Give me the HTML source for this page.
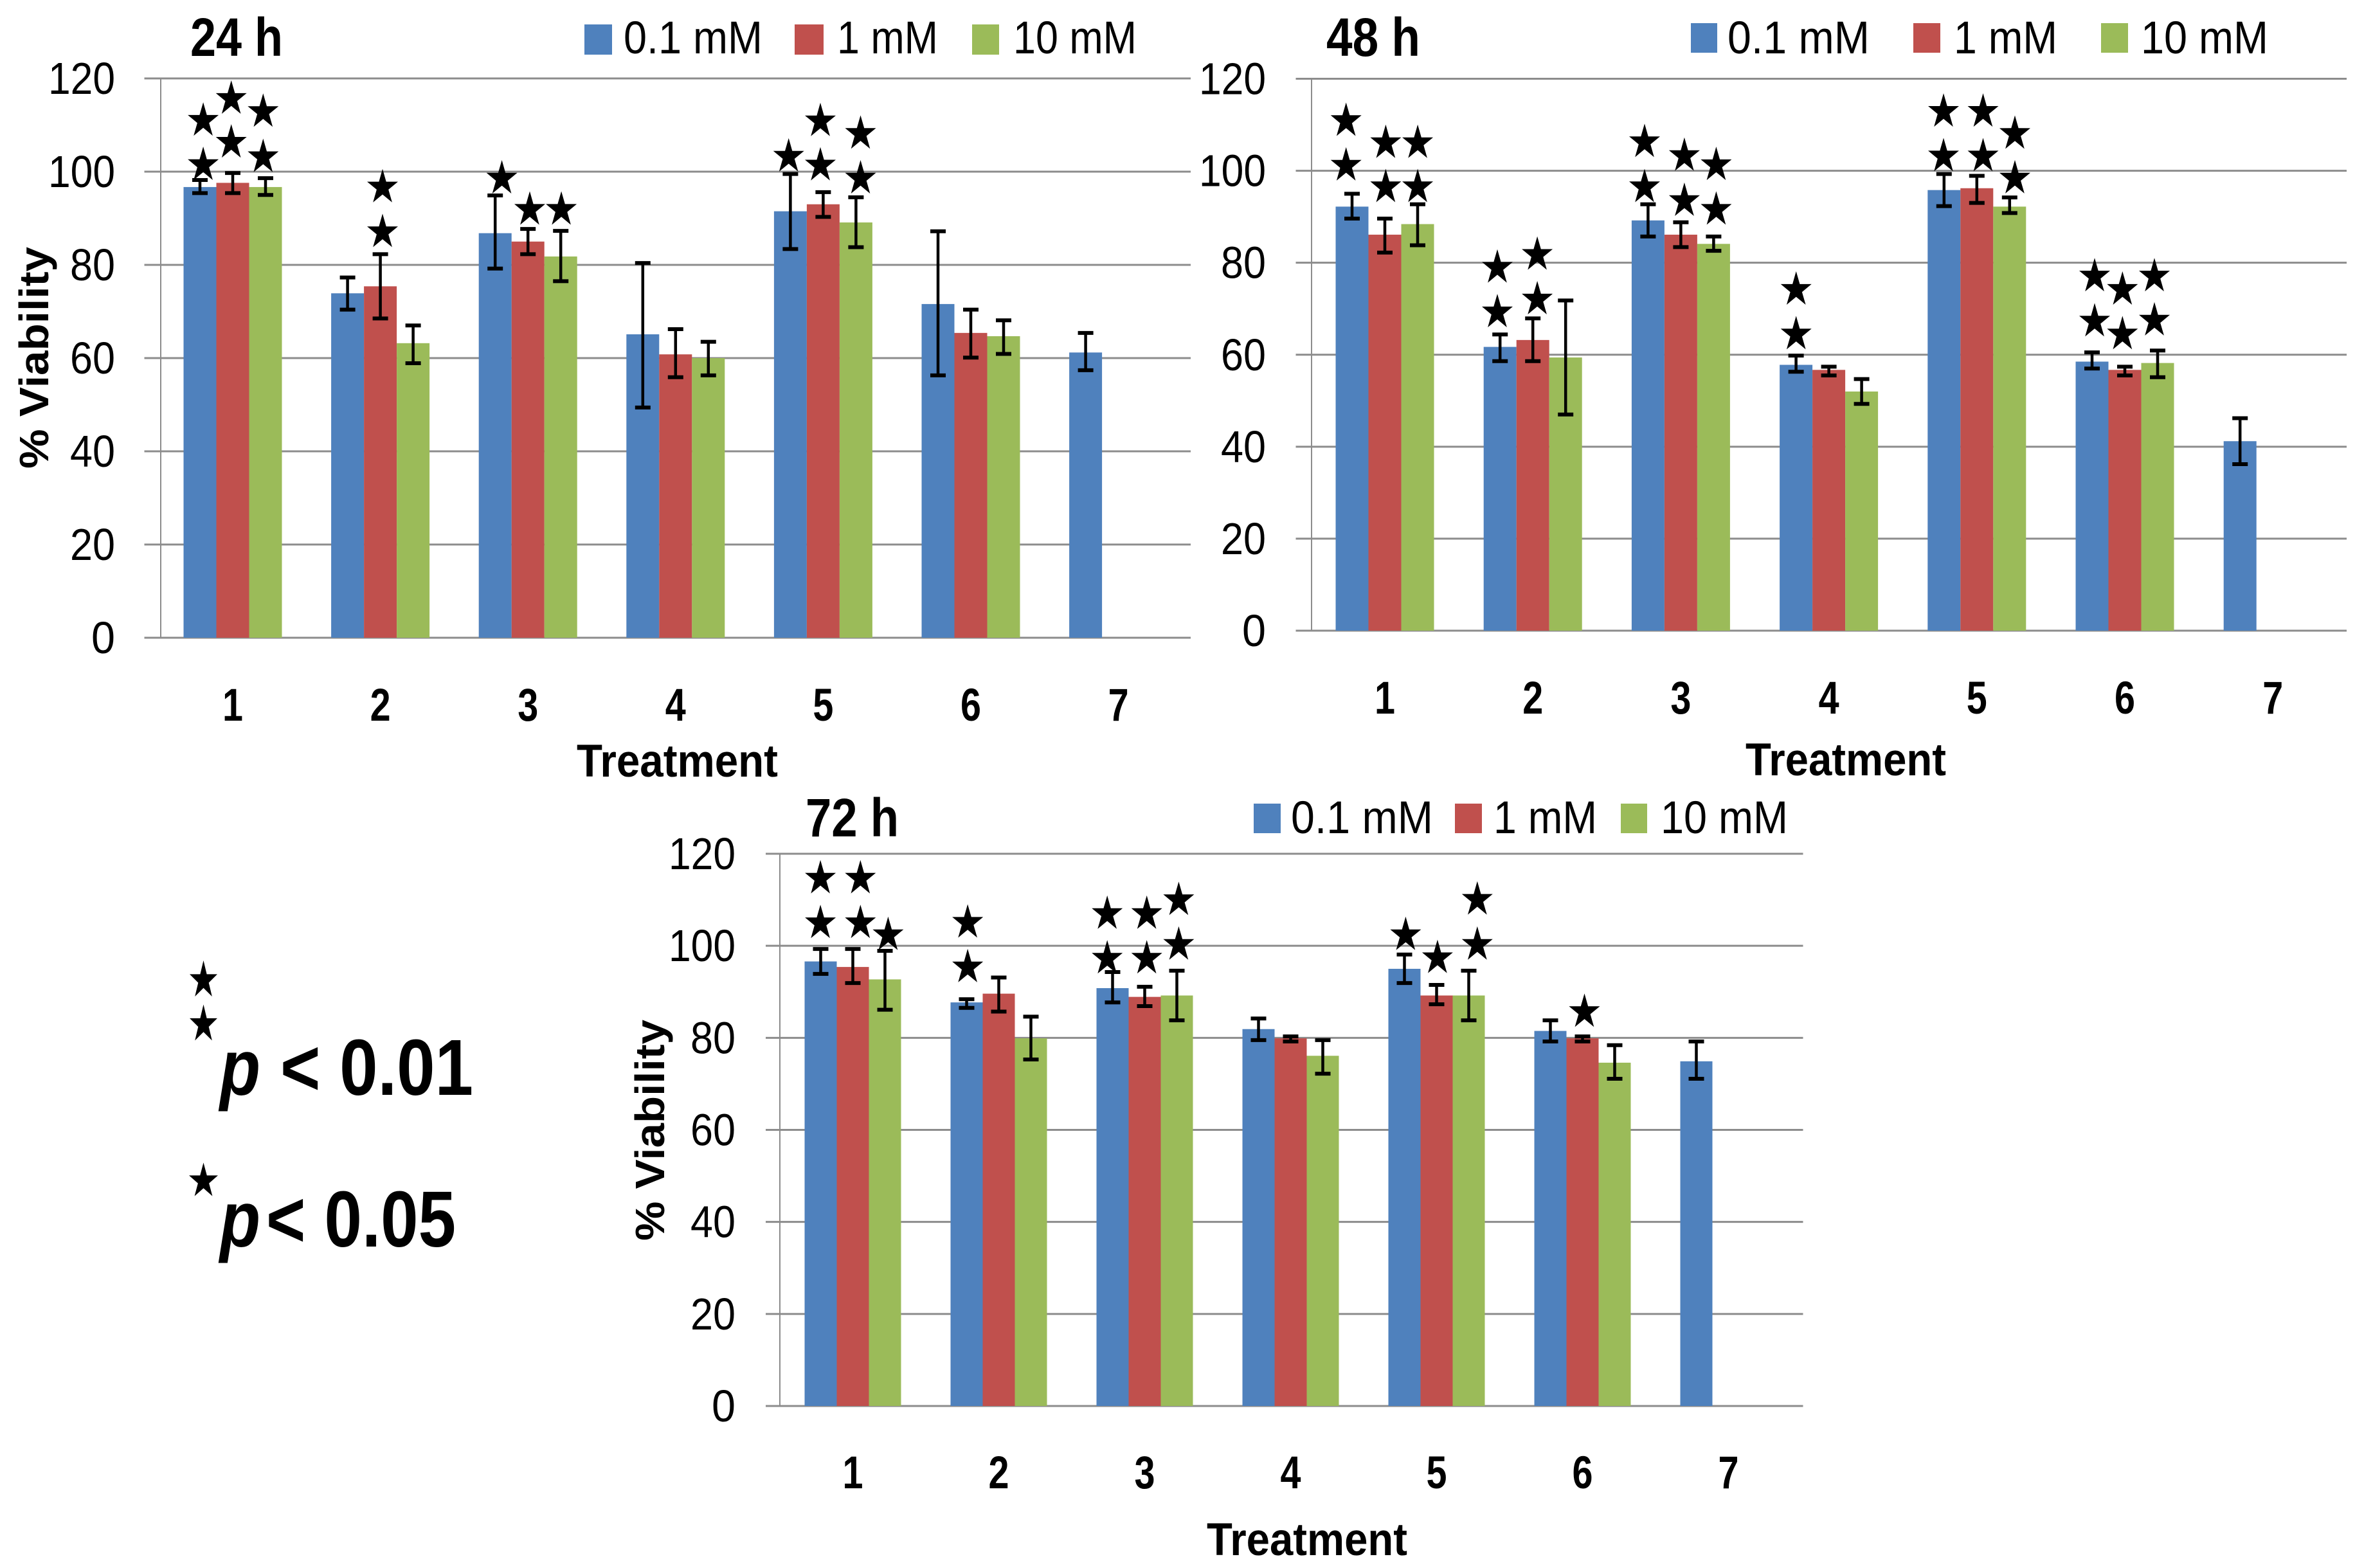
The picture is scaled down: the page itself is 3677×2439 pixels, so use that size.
<!DOCTYPE html>
<html lang="en">
<head>
<meta charset="utf-8">
<title>Percent viability by treatment at 24, 48 and 72 h</title>
<style>
html,body{margin:0;padding:0;background:#fff}
svg{display:block}
text{font-family:"Liberation Sans",sans-serif;fill:#000}
.tick{font-size:70px}
.cat{font-size:71px;font-weight:700}
.axt{font-size:71px;font-weight:700}
.ttl{font-size:84px;font-weight:700}
.leg{font-size:71px}
.sig{font-size:123px;font-weight:700}
</style>
</head>
<body>
<svg id="figure" xmlns="http://www.w3.org/2000/svg" width="3677" height="2439" viewBox="0 0 3677 2439">
  <rect x="0" y="0" width="3677" height="2439" fill="#fff"/>

  <g id="chart24"></g>
  <g id="chart48"></g>
  <g id="chart72"></g>

  <text class="ttl" x="296" y="87" textLength="144" lengthAdjust="spacingAndGlyphs">24 h</text>
  <text class="ttl" x="2063" y="87" textLength="146" lengthAdjust="spacingAndGlyphs">48 h</text>
  <text class="ttl" x="1253" y="1301" textLength="145" lengthAdjust="spacingAndGlyphs">72 h</text>

  <g>
    <rect x="909" y="38" width="43" height="47" fill="#4f81bd"/>
    <text class="leg" x="970" y="83" textLength="216" lengthAdjust="spacingAndGlyphs">0.1 mM</text>
    <rect x="1236" y="38" width="45" height="47" fill="#c0504d"/>
    <text class="leg" x="1302" y="83" textLength="157" lengthAdjust="spacingAndGlyphs">1 mM</text>
    <rect x="1512" y="38" width="42" height="47" fill="#9bbb59"/>
    <text class="leg" x="1576" y="83" textLength="192" lengthAdjust="spacingAndGlyphs">10 mM</text>
  </g>
  <g>
    <rect x="2630" y="36" width="41" height="46" fill="#4f81bd"/>
    <text class="leg" x="2687" y="83" textLength="221" lengthAdjust="spacingAndGlyphs">0.1 mM</text>
    <rect x="2976" y="36" width="42" height="46" fill="#c0504d"/>
    <text class="leg" x="3039" y="83" textLength="161" lengthAdjust="spacingAndGlyphs">1 mM</text>
    <rect x="3268" y="36" width="42" height="46" fill="#9bbb59"/>
    <text class="leg" x="3330" y="83" textLength="198" lengthAdjust="spacingAndGlyphs">10 mM</text>
  </g>
  <g>
    <rect x="1950" y="1250" width="42" height="46" fill="#4f81bd"/>
    <text class="leg" x="2008" y="1296" textLength="221" lengthAdjust="spacingAndGlyphs">0.1 mM</text>
    <rect x="2263" y="1250" width="42" height="46" fill="#c0504d"/>
    <text class="leg" x="2323" y="1296" textLength="161" lengthAdjust="spacingAndGlyphs">1 mM</text>
    <rect x="2521" y="1250" width="41" height="46" fill="#9bbb59"/>
    <text class="leg" x="2583" y="1296" textLength="198" lengthAdjust="spacingAndGlyphs">10 mM</text>
  </g>

  <text class="axt" style="font-size:64px" transform="translate(75 556.5) rotate(-90)" text-anchor="middle" textLength="345" lengthAdjust="spacingAndGlyphs">% Viability</text>
  <text class="axt" style="font-size:64px" transform="translate(1033 1758) rotate(-90)" text-anchor="middle" textLength="344" lengthAdjust="spacingAndGlyphs">% Viability</text>

  <text class="axt" x="897" y="1208" textLength="313" lengthAdjust="spacingAndGlyphs">Treatment</text>
  <text class="axt" x="2715" y="1206" textLength="312" lengthAdjust="spacingAndGlyphs">Treatment</text>
  <text class="axt" x="1877" y="2419" textLength="312" lengthAdjust="spacingAndGlyphs">Treatment</text>

  <g id="sigKey">
    <text class="sig" style="font-style:italic" x="342" y="1703" textLength="63" lengthAdjust="spacingAndGlyphs">p</text>
    <text class="sig" x="436" y="1703" textLength="300" lengthAdjust="spacingAndGlyphs">&lt; 0.01</text>
    <text class="sig" style="font-style:italic" x="342" y="1939" textLength="63" lengthAdjust="spacingAndGlyphs">p</text>
    <text class="sig" x="414" y="1939" textLength="295" lengthAdjust="spacingAndGlyphs">&lt; 0.05</text>
  </g>
</svg>

<script>
// Shared categories and ticks
const categories = [1, 2, 3, 4, 5, 6, 7];
const yTickValues = [0, 20, 40, 60, 80, 100, 120];
const seriesColors = ['#4f81bd', '#c0504d', '#9bbb59'];
const seriesKeys = ['0-1-mm', '1-mm', '10-mm'];

// 24 h means and error-bar limits
const h24Mean01 = [96.7, 73.9, 86.8, 65.1, 91.5, 71.6, 61.2];
const h24Upper01 = [98.2, 77.3, 94.9, 80.4, 99.5, 87.2, 65.4];
const h24Lower01 = [95.4, 70.4, 79.2, 49.4, 83.4, 56.3, 57.4];
const h24Mean1 = [97.6, 75.4, 85.0, 60.8, 93.0, 65.4, null];
const h24Upper1 = [99.7, 82.3, 87.7, 66.2, 95.6, 70.4, null];
const h24Lower1 = [95.4, 68.5, 82.3, 55.9, 90.3, 60.1, null];
const h24Mean10 = [96.7, 63.2, 81.8, 60.0, 89.1, 64.7, null];
const h24Upper10 = [98.6, 67.0, 87.3, 63.5, 94.5, 68.1, null];
const h24Lower10 = [95.0, 58.9, 76.5, 56.3, 83.8, 60.9, null];
// significance stars: [category position, value level]
const h24Stars = [[0.80,111.3],[0.80,101.8],[0.99,116],[0.99,106.6],[1.206,113.2],[1.206,103.5],
  [2.015,97],[2.015,87.4],[2.823,98.9],[3.012,92.2],[3.226,92.2],
  [4.766,103.6],[4.981,111.2],[4.981,101.7],[5.253,108.5],[5.253,98.9]];

// 48 h means and error-bar limits
const h48Mean01 = [92.2, 61.7, 89.2, 57.8, 95.8, 58.5, 41.2];
const h48Upper01 = [95.0, 64.4, 92.7, 59.8, 99.3, 60.5, 46.2];
const h48Lower01 = [89.6, 58.6, 85.7, 56.3, 92.3, 57.0, 36.2];
const h48Mean1 = [86.1, 63.2, 86.1, 56.7, 96.2, 56.7, null];
const h48Upper1 = [89.6, 67.9, 88.8, 57.4, 98.9, 57.4, null];
const h48Lower1 = [82.2, 58.6, 83.4, 55.5, 93.0, 55.5, null];
const h48Mean10 = [88.4, 59.4, 84.1, 52.0, 92.2, 58.2, null];
const h48Upper10 = [92.7, 71.8, 85.7, 54.7, 94.2, 60.9, null];
const h48Lower10 = [83.8, 47.0, 82.6, 49.3, 90.8, 55.1, null];
const h48Stars = [[0.738,111.2],[0.738,101.5],[1.006,106.4],[1.006,96.8],[1.222,106.4],[1.222,96.8],
  [1.76,79.3],[1.76,69.6],[2.03,82.1],[2.03,72.4],
  [2.755,106.6],[2.755,96.8],[3.024,103.6],[3.024,93.8],[3.239,101.6],[3.239,91.9],
  [3.779,74.5],[3.779,64.8],
  [4.775,113.2],[4.775,103.5],[5.042,113.2],[5.042,103.5],[5.257,108.4],[5.257,98.7],
  [5.796,77.4],[5.796,67.6],[5.984,74.5],[5.984,64.8],[6.2,77.4],[6.2,67.8]];

// 72 h means and error-bar limits
const h72Mean01 = [96.6, 87.7, 90.8, 81.9, 95.0, 81.5, 74.9];
const h72Upper01 = [99.3, 88.4, 94.3, 84.2, 98.1, 83.8, 79.2];
const h72Lower01 = [93.9, 86.5, 87.7, 79.5, 91.9, 79.2, 71.1];
const h72Mean1 = [95.4, 89.6, 88.9, 79.9, 89.2, 79.9, null];
const h72Upper1 = [99.3, 93.1, 91.1, 80.3, 91.5, 80.3, null];
const h72Lower1 = [91.9, 85.7, 86.9, 79.2, 87.3, 79.2, null];
const h72Mean10 = [92.7, 79.9, 89.2, 76.1, 89.2, 74.6, null];
const h72Upper10 = [98.9, 84.6, 94.6, 79.5, 94.6, 78.4, null];
const h72Lower10 = [86.1, 75.3, 83.8, 72.2, 83.8, 71.1, null];
const h72Stars = [[0.778,115],[0.778,105.3],[1.052,115],[1.052,105.3],[1.242,102.7],
  [1.787,105.4],[1.787,95.7],
  [2.743,107.3],[2.743,97.6],[3.014,107.3],[3.014,97.6],[3.233,110.3],[3.233,100.6],
  [4.788,102.7],[5.006,97.7],[5.279,110.4],[5.279,100.6],[6.013,86]];

const SVG_NS = 'http://www.w3.org/2000/svg';

function make(parent, tag, attrs, content) {
  const el = document.createElementNS(SVG_NS, tag);
  for (const k in attrs) el.setAttribute(k, attrs[k]);
  if (content !== undefined) el.textContent = content;
  parent.appendChild(el);
  return el;
}

function starPoints(cx, cy, w, h) {
  const pts = [];
  for (let i = 0; i < 10; i++) {
    const a = (-90 + 36 * i) * Math.PI / 180;
    const r = i % 2 ? 0.382 : 1;
    const nx = r * Math.cos(a) / 0.951;
    const ny = (r * Math.sin(a) + 0.0955) / 0.9045;
    pts.push((cx + nx * w / 2).toFixed(1) + ',' + (cy + ny * h / 2).toFixed(1));
  }
  return pts.join(' ');
}

function drawChart(cfg) {
  const root = document.getElementById(cfg.id);
  const yScale = v => cfg.yZero - v * (cfg.yZero - cfg.yTop) / 120;
  const catCenter = c => cfg.firstBar + 1.5 * cfg.barWidth + (c - 1) * cfg.pitch;

  // gridlines and y ticks
  yTickValues.forEach(v => {
    const line = make(root, 'line', {x1: cfg.gridLeft, x2: cfg.gridRight, y1: yScale(v), y2: yScale(v), stroke: '#8c8c8c', 'stroke-width': 3});
    
    
    const label = make(root, 'text', {class: 'tick', x: cfg.tickRight, y: yScale(v) + 24, 'text-anchor': 'end', textLength: String(v).length * 33 + (v > 99 ? 5 : 4), lengthAdjust: 'spacingAndGlyphs'}, String(v));
    
    
  });

  const axis = make(root, 'line', {x1: cfg.axisX, x2: cfg.axisX, y1: cfg.yTop, y2: cfg.yZero, stroke: '#8c8c8c', 'stroke-width': 2});
  
  

  // bars
  cfg.means.forEach((series, s) => {
    series.forEach((v, i) => {
      if (v === null) return;
      const bar = make(root, 'rect', {x: cfg.firstBar + i * cfg.pitch + s * cfg.barWidth, y: yScale(v), width: cfg.barWidth, height: cfg.yZero - yScale(v), fill: seriesColors[s]});
      
      
    });
  });

  // error bars
  cfg.means.forEach((series, s) => {
    series.forEach((v, i) => {
      if (v === null) return;
      const cx = cfg.firstBar + i * cfg.pitch + (s + 0.5) * cfg.barWidth;
      const hi = yScale(cfg.uppers[s][i]);
      const lo = yScale(cfg.lowers[s][i]);
      const g = make(root, 'g', {stroke: '#000', fill: 'none'});
      
      
      make(g, 'line', {x1: cx, x2: cx, y1: hi, y2: lo, 'stroke-width': 4.5});
      make(g, 'line', {x1: cx - 12, x2: cx + 12, y1: hi, y2: hi, 'stroke-width': 6});
      make(g, 'line', {x1: cx - 12, x2: cx + 12, y1: lo, y2: lo, 'stroke-width': 6});
    });
  });

  // category labels
  categories.forEach(c => {
    const label = make(root, 'text', {class: 'cat', x: catCenter(c), y: cfg.catBaseline, 'text-anchor': 'middle', textLength: 32, lengthAdjust: 'spacingAndGlyphs'}, String(c));
    
    
  });

  // significance stars
  cfg.stars.forEach(st => {
    const star = make(root, 'polygon', {points: starPoints(catCenter(st[0]), yScale(st[1]), 48, 52), fill: '#000'});
    
    
  });
}

drawChart({
  id: 'chart24', yZero: 992, yTop: 122, gridLeft: 224.5, gridRight: 1852, axisX: 250, tickRight: 179,
  firstBar: 285.5, pitch: 229.6, barWidth: 51, catBaseline: 1121,
  means: [h24Mean01, h24Mean1, h24Mean10],
  uppers: [h24Upper01, h24Upper1, h24Upper10],
  lowers: [h24Lower01, h24Lower1, h24Lower10],
  stars: h24Stars
});
drawChart({
  id: 'chart48', yZero: 981, yTop: 122.5, gridLeft: 2015.5, gridRight: 3650, axisX: 2040, tickRight: 1969,
  firstBar: 2077.5, pitch: 230.2, barWidth: 51, catBaseline: 1110,
  means: [h48Mean01, h48Mean1, h48Mean10],
  uppers: [h48Upper01, h48Upper1, h48Upper10],
  lowers: [h48Lower01, h48Lower1, h48Lower10],
  stars: h48Stars
});
drawChart({
  id: 'chart72', yZero: 2187, yTop: 1328, gridLeft: 1191, gridRight: 2804.5, axisX: 1213, tickRight: 1144,
  firstBar: 1251.5, pitch: 227, barWidth: 50, catBaseline: 2315,
  means: [h72Mean01, h72Mean1, h72Mean10],
  uppers: [h72Upper01, h72Upper1, h72Upper10],
  lowers: [h72Lower01, h72Lower1, h72Lower10],
  stars: h72Stars
});

// key stars
const key = document.getElementById('sigKey');
const keyStarA = make(key, 'polygon', {points: starPoints(316.5, 1522, 43, 56), fill: '#000'});


const keyStarB = make(key, 'polygon', {points: starPoints(316.5, 1590.5, 43, 56), fill: '#000'});


const keyStarC = make(key, 'polygon', {points: starPoints(316.5, 1834.5, 45, 52), fill: '#000'});


</script>
</body>
</html>
